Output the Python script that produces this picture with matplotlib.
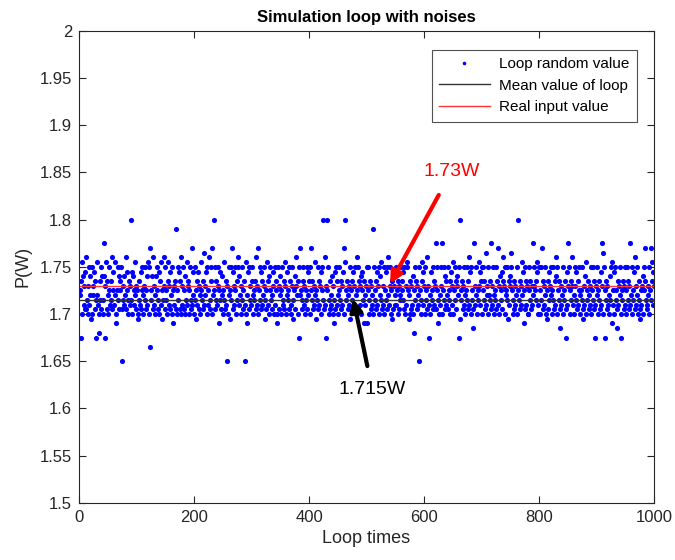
import numpy as np
import matplotlib
matplotlib.use('Agg')
import matplotlib.pyplot as plt

# noise samples, one char per loop: value = 1.65 + 0.005 * int(char, 36)
noise_rows = [
    "fe5hlaigcb jbmdagkcie 9akgejbh5d elc6ahdkbi dapig5lbhe",
    "akfchdmbjf clea8fkdib fhk0bdgice bmfjadhcgu djaifclebg",
    "fa9dhcjbkf eagkdfbicl ka3ofdibmc gaeikfbdja hlcf9dmgbk",
    "dfalhcgbje ka8fgchbsa fkdjbhamcg kbfaidlcgh afkdbocjea",
    "kd9fhcjbge alfdhbnceg jakfcmbdhk oaeufkbdhc gk8fdjbeia",
    "fdlbhcg0ak e9fkdojbgc kfahdmkcie agkdfbh0cl a8ejbkdgch",
    "kaefdhbmcg oafkdjbhce kg9dfblhci afkdbegjak chfa8kbgei",
    "afkcdhbgla ejfdkbhcag kd9fbimgeh a5koefdbhk cgafdkbjeh",
    "kaofdhbgcl e9fdkbhcgj akfdubmcg5 ufkdahbeci ga8djbkhce",
    "akfdhbgcjo aulfdhbecg k9fdhbjcgk eafmkbhcgi ajfdh8ecgk",
    "8fkdahbgce askfdhbjcg kaiedlbgck afjdkbmecg kfa9hbigce",
    "ckfahbgdek hfdjkbacgl kfe9ahbgci a6fkdhbgce 0kfadhljcg",
    "kafdmbg5ce ajfdkbhcgp bfkd8aecgk pafdkbiche kbfdhajcgl",
    "afkdhbgie5 ku9fdhbgck eafdkbhcmj akfd7bpcge kafdgljchk",
    "afkdhbncge kaedhpbgck eafdkbhocg aifdjbhmgk afedk9hcgi",
    "nkfdahbgce akfudhbgcl ejf8kbhcga akfdhbgcpe kgfdhljcak",
    "afkdobhcge kaf9hbjdgk eafdkbhcmi akfdhb7cge kafdh5bjcg",
    "pkafdhmgce akgdjbhcfk eafdkb9cgi alfdhbecgk afkdhb5cge",
    "kafdhbjcgp ank5fdhbgc eaidkl8cfj akfd7bhcge k5afdhbgck",
    "afkdhbgpce kafdjbmcgk eahd9bfcgi akfohdbcge kafodhljcg",
]
noise_codes = "".join(noise_rows).replace(" ", "")
loop_values = np.array([1.65 + 0.005 * int(c, 36) for c in noise_codes])
loop_idx = np.arange(1, len(loop_values) + 1)

mean_value = 1.715
real_value = 1.73

plt.rcParams['font.family'] = ['Liberation Sans', 'DejaVu Sans']
dark = '#262626'

fig = plt.figure(figsize=(6.75, 5.6), dpi=100)
ax = fig.add_axes([0.117, 0.102, 0.852, 0.843])

ax.plot(loop_idx, loop_values, 'o', color='#0000ff', markersize=3.7,
        markeredgewidth=0, label='Loop random value')
ax.plot([0, 1000], [mean_value, mean_value], color='#333333', lw=1.0,
        label='Mean value of loop')
ax.plot([0, 1000], [real_value, real_value], color='#ff3333', lw=1.0,
        label='Real input value')

ax.annotate('1.73W', xy=(541, 1.732), xytext=(648, 1.851), color='red',
            fontsize=14, ha='center', va='center',
            arrowprops=dict(arrowstyle='-|>', color='red', lw=3,
                            mutation_scale=18, shrinkA=10, shrinkB=0))
ax.annotate('1.715W', xy=(477, 1.716), xytext=(510, 1.62), color='black',
            fontsize=14, ha='center', va='center',
            arrowprops=dict(arrowstyle='-|>', color='black', lw=3,
                            mutation_scale=18, shrinkA=9, shrinkB=0))

ax.set_xlim(0, 1000)
ax.set_ylim(1.5, 2.0)
ax.set_xticks(np.arange(0, 1001, 200))
yt = np.arange(1.5, 2.001, 0.05)
ax.set_yticks(yt)
ax.set_yticklabels(['%g' % round(v, 2) for v in yt])
ax.tick_params(direction='in', length=5, width=0.8, top=True, right=True,
               labelsize=12, colors=dark, pad=5)
for sp in ax.spines.values():
    sp.set_color(dark)
    sp.set_linewidth(0.8)

ax.set_title('Simulation loop with noises', fontsize=12, fontweight='bold',
             color='black', pad=6)
ax.set_xlabel('Loop times', fontsize=13, color=dark, labelpad=4)
ax.set_ylabel('P(W)', fontsize=13, color=dark, labelpad=6)

leg = ax.legend(loc='upper right', fontsize=11, frameon=True, fancybox=False,
                edgecolor=dark, borderpad=0.5, labelspacing=0.48,
                handlelength=3.3, handletextpad=0.6, borderaxespad=0,
                bbox_to_anchor=(0.970, 0.960), markerscale=0.7)
leg.get_frame().set_linewidth(0.8)

fig.savefig('out.png', dpi=100)
plt.close(fig)
